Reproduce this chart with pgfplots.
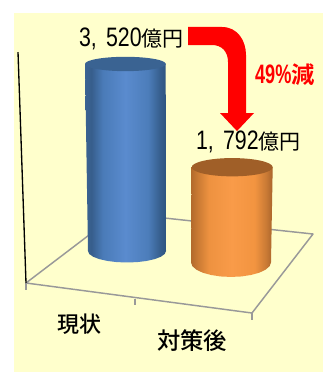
\documentclass[border=0pt]{standalone}
\usepackage{pgfplots}
\pgfplotsset{compat=1.18}
\usepackage{fontspec}
\setmainfont{Noto Sans CJK JP}
\newfontfamily\numfont[FakeStretch=0.8]{Liberation Sans}
\newfontfamily\redfont[FakeStretch=0.68]{Liberation Sans Bold}
\newfontfamily\jpbold{Noto Sans CJK JP Bold}
\newfontfamily\jpmed{Noto Sans CJK JP Medium}
\definecolor{panel}{HTML}{FFFFCC}
\definecolor{floorline}{HTML}{999999}
\definecolor{bA}{HTML}{3A6392}\definecolor{bB}{HTML}{375E8C}
\definecolor{bC}{HTML}{4A7BB8}\definecolor{bD}{HTML}{5A8BCE}
\definecolor{bE}{HTML}{4C7DBA}\definecolor{bF}{HTML}{37608F}
\definecolor{bG}{HTML}{2E5480}
\definecolor{oA}{HTML}{B26A2C}\definecolor{oB}{HTML}{C97A33}
\definecolor{oC}{HTML}{EE9240}\definecolor{oD}{HTML}{F99B49}
\definecolor{oE}{HTML}{F29440}\definecolor{oF}{HTML}{C97A35}
\definecolor{oG}{HTML}{A9642B}
\pgfdeclarehorizontalshading{bluecyl}{100bp}{
  color(0bp)=(bA); color(25bp)=(bA); color(29bp)=(bB); color(36bp)=(bC);
  color(50bp)=(bD); color(64bp)=(bE); color(71bp)=(bF);
  color(75bp)=(bG); color(100bp)=(bG)}
\pgfdeclarehorizontalshading{orangecyl}{100bp}{
  color(0bp)=(oA); color(25bp)=(oA); color(29bp)=(oB); color(36bp)=(oC);
  color(50bp)=(oD); color(64bp)=(oE); color(71bp)=(oF);
  color(75bp)=(oG); color(100bp)=(oG)}
% Amounts are written with evenly spaced digits and a gap after the comma
\newcommand{\amount}[2]{{\fontsize{20pt}{20pt}\selectfont\numfont #1,\hspace{7pt}#2}}
\begin{document}
\begin{tikzpicture}
\begin{axis}[
  scale only axis, width=242.25pt, height=279pt,
  xmin=0, xmax=323, ymin=-2277, ymax=4724,
  axis lines=none, clip=false, no markers,
  every axis plot/.append style={line join=round}]
% page and panel
\addplot[fill=white, draw=none] coordinates {(0,-2277) (323,-2277) (323,4724) (0,4724)} --cycle;
\addplot[fill=panel, draw=none] coordinates {(14,-2277) (323,-2277) (323,4479) (14,4479)} --cycle;
% floor and value wall
\addplot[floorline, line width=1.1pt] coordinates {(26,-602) (118,715) (313,320) (252,-1167) (26,-602)};
\addplot[floorline, line width=1pt] coordinates {(26,-602) (26,-734)};
\addplot[floorline, line width=1pt] coordinates {(135,-903) (135,-1016)};
\addplot[floorline, line width=1pt] coordinates {(252,-1167) (252,-1299)};
\addplot[black, line width=1pt] coordinates {(18,3745) (26,-602)};
% cylinder for the current amount, 3520
\addplot[shading=bluecyl, draw=none] coordinates {
  (85,3520) (165.7,3520) (166,0) (164.7,-56) (160.8,-108) (154.6,-153) (146.5,-187) (137.1,-209) (127,-216)
  (116.9,-209) (107.5,-187) (99.4,-153) (93.2,-108) (89.2,-56) (88,0)} --cycle;
\fill[bA] (axis cs:125.4,3520) ellipse [x radius=40.4, y radius=135];
% cylinder for the amount after the measures, 1792
\addplot[shading=orangecyl, draw=none] coordinates {
  (191.7,1577) (272.7,1577) (271,-215) (269.6,-286) (265.6,-351) (259.3,-408) (251,-451) (241.4,-479) (231,-488)
  (220.6,-479) (211,-451) (202.7,-408) (196.4,-351) (192.4,-286) (191,-215)} --cycle;
\fill[oA!90!black] (axis cs:232.2,1577) ellipse [x radius=40.5, y radius=172];
% arrow showing the reduction
\fill[red] (axis cs:188,4216) -- (axis cs:222,4216)
  .. controls (axis cs:238,4216) and (axis cs:246,3950) .. (axis cs:246,3689)
  -- (axis cs:246,2597) -- (axis cs:254,2597) -- (axis cs:237,2258) -- (axis cs:220,2597)
  -- (axis cs:228,2597) -- (axis cs:228,3557)
  .. controls (axis cs:228,3750) and (axis cs:222,3877) .. (axis cs:212,3877)
  -- (axis cs:188,3877) -- cycle;
% labels
\node[anchor=east, inner sep=0pt] at (axis cs:184,4000) {\amount{3}{520}\fontsize{15.75pt}{16pt}\selectfont 億円};
\node[anchor=east, inner sep=0pt] at (axis cs:301,2051) {\amount{1}{792}\fontsize{15.75pt}{16pt}\selectfont 億円};
\node[text=red, anchor=east, inner sep=0pt] at (axis cs:315,3312) {\fontsize{20pt}{20pt}\selectfont\redfont 49\%\fontsize{17.5pt}{17pt}\selectfont\jpbold 減};
\node[inner sep=0pt] at (axis cs:79,-1374) {\fontsize{16.5pt}{17pt}\selectfont\jpmed 現状};
\node[inner sep=0pt] at (axis cs:192,-1694) {\fontsize{17.5pt}{17pt}\selectfont\jpmed 対策後};
\end{axis}
\end{tikzpicture}
\end{document}
